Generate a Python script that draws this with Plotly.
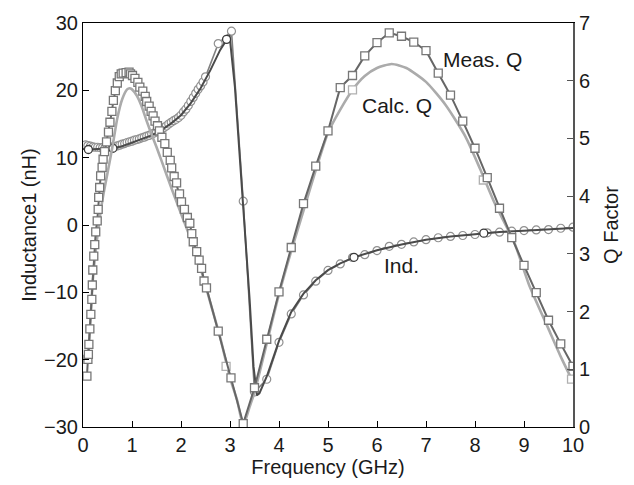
import plotly.graph_objects as go

# ---------------- data ----------------
meas_q_freq = [0.08, 0.10, 0.11, 0.12, 0.14, 0.16, 0.18, 0.19, 0.20, 0.22, 0.24, 0.26, 0.29, 0.31, 0.32,
               0.34, 0.36, 0.39, 0.41, 0.44, 0.48, 0.52, 0.55, 0.59, 0.62, 0.66, 0.70, 0.74, 0.78, 0.82,
               0.88, 0.94, 0.97, 1.01, 1.06, 1.12, 1.16, 1.22, 1.27, 1.30, 1.35, 1.39, 1.43, 1.47, 1.52,
               1.56, 1.61, 1.67, 1.72, 1.78, 1.81, 1.86, 1.91, 1.97, 2.01, 2.07, 2.13, 2.18, 2.22, 2.25,
               2.32, 2.37, 2.42, 2.47, 2.52, 2.76, 3.02, 3.27,
               3.50, 3.75, 4.00, 4.25, 4.50, 4.75, 5.00, 5.25, 5.50, 5.75, 6.00, 6.25, 6.50, 6.75, 7.00,
               7.25, 7.50, 7.75, 8.00, 8.25, 8.50, 8.75, 9.00, 9.25, 9.50, 9.75, 10.00]
meas_q = [0.88, 1.17, 1.26, 1.43, 1.70, 1.95, 2.21, 2.46, 2.72, 2.96, 3.16, 3.38, 3.57, 3.77, 3.98,
          4.15, 4.35, 4.50, 4.64, 4.77, 4.94, 5.11, 5.28, 5.47, 5.66, 5.83, 5.96, 6.07, 6.12, 6.13,
          6.14, 6.15, 6.12, 6.09, 6.04, 5.97, 5.89, 5.82, 5.73, 5.64, 5.56, 5.47, 5.39, 5.30, 5.22,
          5.13, 5.02, 4.91, 4.76, 4.62, 4.49, 4.34, 4.23, 4.04, 3.90, 3.77, 3.63, 3.53, 3.35, 3.21,
          3.04, 2.89, 2.75, 2.53, 2.41, 1.66, 0.85, 0.06,
          0.68, 1.52, 2.34, 3.11, 3.87, 4.52, 5.13, 5.88, 6.09, 6.43, 6.66, 6.83, 6.77, 6.67, 6.52,
          6.13, 5.75, 5.30, 4.83, 4.32, 3.79, 3.28, 2.80, 2.33, 1.85, 1.44, 1.05]

calc_q_freq = [0.10, 0.15, 0.20, 0.30, 0.40, 0.50, 0.60, 0.70, 0.80, 0.90, 0.95, 1.00, 1.10, 1.20,
               1.30, 1.40, 1.50, 1.60, 1.80, 2.00, 2.20, 2.40, 2.60, 2.80, 3.00, 3.15, 3.27, 3.40, 3.50,
               3.75, 4.00, 4.25, 4.50, 4.75, 5.00, 5.25, 5.50, 5.75, 6.00, 6.30, 6.60, 7.00, 7.40, 7.80,
               8.10, 8.40, 8.80, 9.10, 9.50, 9.75, 10.00]
calc_q = [1.10, 1.80, 2.55, 3.35, 3.95, 4.40, 4.85, 5.35, 5.68, 5.85, 5.87, 5.85, 5.74, 5.55,
          5.30, 5.07, 4.85, 4.62, 4.15, 3.70, 3.25, 2.75, 2.15, 1.55, 0.85, 0.45, 0.03, 0.35, 0.60,
          1.45, 2.30, 3.05, 3.75, 4.45, 5.10, 5.50, 5.84, 6.08, 6.22, 6.29, 6.22, 5.98, 5.58, 5.04,
          4.48, 3.88, 3.20, 2.47, 1.70, 1.22, 0.78]
calc_q_mark_freq = [2.92, 5.50, 8.17, 9.97]
calc_q_mark = [1.05, 5.84, 4.28, 0.83]

meas_ind_freq = [0.05, 0.10, 0.15, 0.20, 0.25, 0.30, 0.35, 0.40, 0.45, 0.50, 0.55, 0.60, 0.65, 0.70, 0.75,
                 0.80, 0.85, 0.90, 0.95, 1.00, 1.05, 1.10, 1.15, 1.20, 1.25, 1.30, 1.35, 1.40, 1.45, 1.50,
                 1.55, 1.60, 1.65, 1.70, 1.75, 1.80, 1.85, 1.90, 1.95, 2.00, 2.05, 2.10, 2.15, 2.20, 2.25,
                 2.30, 2.35, 2.40, 2.45, 2.50, 2.76, 3.03, 3.27,
                 3.50, 3.75, 4.00, 4.25, 4.50, 4.75, 5.00, 5.25, 5.50, 5.75, 6.00, 6.25, 6.50, 6.75, 7.00,
                 7.25, 7.50, 7.75, 8.00, 8.25, 8.50, 8.75, 9.00, 9.25, 9.50, 9.75, 10.00]
meas_ind = [11.90, 11.80, 11.70, 11.60, 11.55, 11.55, 11.50, 11.50, 11.50, 11.50, 11.55, 11.60, 11.65, 11.75, 11.85,
            12.00, 12.10, 12.25, 12.35, 12.45, 12.60, 12.70, 12.80, 12.95, 13.05, 13.20, 13.30, 13.50, 13.65, 13.85,
            14.00, 14.20, 14.45, 14.70, 15.00, 15.25, 15.50, 15.70, 15.95, 16.30, 16.80, 17.20, 17.75, 18.35, 18.95,
            19.55, 20.15, 20.65, 21.25, 22.00, 26.94, 28.79, 3.54,
            -24.80, -22.91, -17.43, -13.21, -10.38, -8.34, -6.74, -5.78, -4.83, -4.40, -3.80, -3.16, -2.87, -2.52, -2.18,
            -1.89, -1.70, -1.56, -1.41, -1.16, -1.06, -0.92, -0.83, -0.73, -0.68, -0.48, -0.33]

calc_ind_freq = [0.00, 0.11, 0.30, 0.61, 0.80, 1.00, 1.20, 1.40, 1.60, 1.80, 2.00, 2.20, 2.40, 2.60, 2.80,
                 2.93, 2.99, 3.10, 3.20, 3.30, 3.40, 3.48, 3.55, 3.60, 3.65, 3.75, 4.00, 4.25, 4.50, 4.75,
                 5.00, 5.25, 5.53, 6.00, 6.50, 7.00, 7.50, 8.00, 8.18, 8.50, 9.00, 9.50, 10.00]
calc_ind = [11.30, 11.21, 11.30, 11.40, 11.70, 12.20, 12.70, 13.30, 14.10, 15.10, 16.30, 18.10, 20.30, 23.00, 26.00,
            27.57, 28.20, 20.50, 10.50, 0.00, -11.00, -21.00, -25.30, -25.00, -24.20, -22.50, -17.20, -12.90, -10.20, -8.20,
            -6.70, -5.70, -4.80, -3.75, -2.90, -2.20, -1.72, -1.35, -1.21, -1.05, -0.85, -0.68, -0.45]
calc_ind_mark_freq = [0.11, 0.61, 2.93, 5.53, 8.18]
calc_ind_mark = [11.21, 11.40, 27.57, -4.80, -1.21]

x_ticks = [0, 1, 2, 3, 4, 5, 6, 7, 8, 9, 10]
ind_ticks = [-30, -20, -10, 0, 10, 20, 30]
q_ticks = [0, 1, 2, 3, 4, 5, 6, 7]

FONT = "Liberation Sans, Arial, Helvetica, sans-serif"
TXT = "#1a1a1a"

fig = go.Figure()

# Inductance (left axis)
fig.add_trace(go.Scatter(x=meas_ind_freq, y=meas_ind, mode="lines+markers", yaxis="y",
                         line=dict(color="#808080", width=1.6),
                         marker=dict(symbol="circle", size=8, color="white",
                                     line=dict(color="#909090", width=1.2))))
fig.add_trace(go.Scatter(x=calc_ind_freq, y=calc_ind, mode="lines", yaxis="y",
                         line=dict(color="#4a4a4a", width=2)))
fig.add_trace(go.Scatter(x=calc_ind_mark_freq, y=calc_ind_mark, mode="markers", yaxis="y",
                         marker=dict(symbol="circle", size=8, color="white",
                                     line=dict(color="#3a3a3a", width=1.3))))

# Q factor (right axis)
fig.add_trace(go.Scatter(x=calc_q_freq, y=calc_q, mode="lines", yaxis="y2",
                         line=dict(color="#ababab", width=2.6, shape="spline", smoothing=0.6)))
fig.add_trace(go.Scatter(x=calc_q_mark_freq, y=calc_q_mark, mode="markers", yaxis="y2",
                         marker=dict(symbol="square", size=8, color="white",
                                     line=dict(color="#b0b0b0", width=1.3))))
fig.add_trace(go.Scatter(x=meas_q_freq, y=meas_q, mode="lines+markers", yaxis="y2",
                         line=dict(color="#666666", width=2),
                         marker=dict(symbol="square", size=8, color="white",
                                     line=dict(color="#777777", width=1.3))))

axis_common = dict(ticks="inside", ticklen=6, showgrid=False, zeroline=False, showline=True,
                   tickfont=dict(family=FONT, size=20, color=TXT))

fig.update_layout(
    width=634, height=485,
    margin=dict(l=83, r=61, t=15, b=58),
    paper_bgcolor="white", plot_bgcolor="white",
    showlegend=False,
    font=dict(family=FONT, size=20, color=TXT),
    xaxis=dict(range=[0, 10], tickvals=x_ticks, linecolor="black", linewidth=1.2, mirror=True,
               tickcolor="black",
               title=dict(text="Frequency (GHz)", font=dict(family=FONT, size=20, color=TXT), standoff=2),
               **axis_common),
    yaxis=dict(range=[-30, 30], tickvals=ind_ticks, linecolor="black", linewidth=1.2, tickcolor="black",
               title=dict(text="Inductance1 (nH)", font=dict(family=FONT, size=20, color=TXT), standoff=1),
               **axis_common),
    yaxis2=dict(range=[0, 7], tickvals=q_ticks, overlaying="y", side="right",
                linecolor="#555555", linewidth=1.8, tickcolor="#555555",
                title=dict(text="Q Factor", font=dict(family=FONT, size=20, color=TXT), standoff=15),
                **axis_common),
    annotations=[
        dict(x=8.16, y=6.37, xref="x", yref="y2", text="Meas. Q", showarrow=False,
             font=dict(family=FONT, size=21, color=TXT)),
        dict(x=6.41, y=5.57, xref="x", yref="y2", text="Calc. Q", showarrow=False,
             font=dict(family=FONT, size=21, color=TXT)),
        dict(x=6.51, y=-5.97, xref="x", yref="y", text="Ind.", showarrow=False,
             font=dict(family=FONT, size=21, color=TXT)),
    ],
)

fig.write_html("out.html")
